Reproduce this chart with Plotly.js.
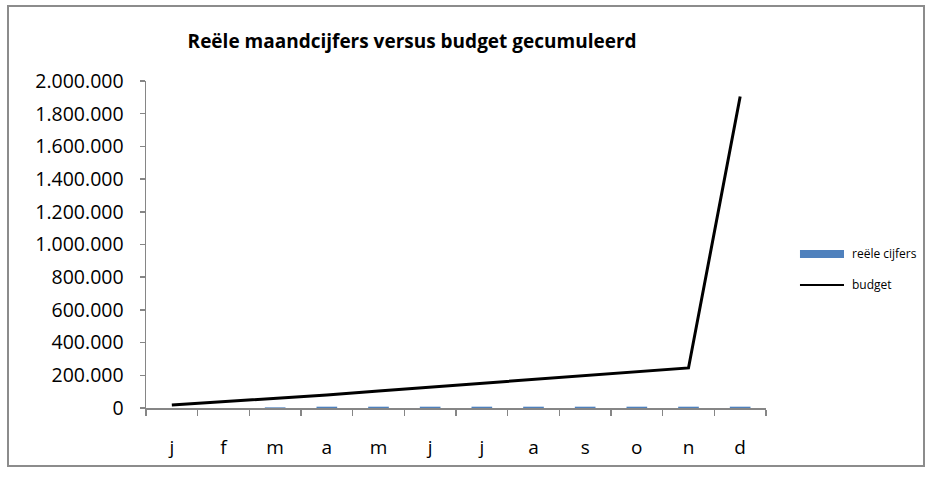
<!DOCTYPE html>
<html>
<head>
<meta charset="utf-8">
<script src="https://cdn.plot.ly/plotly-3.0.1.min.js"></script>
<style>
body { margin: 0; background: #fff; }
#chart { position: absolute; left: 7px; top: 5px; width: 918px; height: 462px;
         box-sizing: border-box; border: 2px solid #8c8c8c; }
</style>
</head>
<body>
<div id="chart"></div>
<script>
// maanden (labels repeat, so plot on index positions)
var maanden = ['j', 'f', 'm', 'a', 'm', 'j', 'j', 'a', 's', 'o', 'n', 'd'];
var reeleCijfers = [0, 0, 4000, 8000, 8000, 8000, 8000, 8000, 8000, 8000, 8000, 8000];
var budget = [18000, 38000, 58000, 80000, 104000, 128000, 151000, 175000, 198000, 222000, 245000, 1905000];
var yTicks = [0, 200000, 400000, 600000, 800000, 1000000, 1200000, 1400000, 1600000, 1800000, 2000000];

var pos = maanden.map(function (m, i) { return i; });
var grenzen = maanden.map(function (m, i) { return i - 0.5; }).concat([maanden.length - 0.5]);

var axisGrey = '#868686';
var fontFam = '"Open Sans", "Liberation Sans", sans-serif';

var data = [{
  type: 'bar',
  name: 'reële cijfers',
  x: pos,
  y: reeleCijfers,
  marker: {color: '#4F81BD'},
  hoverinfo: 'y'
}, {
  type: 'scatter',
  mode: 'lines',
  name: 'budget',
  x: pos,
  y: budget,
  line: {color: '#000000', width: 3}
}];

var layout = {
  width: 914,
  height: 458,
  margin: {l: 137, r: 157, t: 74, b: 57},
  paper_bgcolor: '#ffffff',
  plot_bgcolor: '#ffffff',
  separators: ',.',
  showlegend: false,
  bargap: 0.6,
  font: {family: fontFam, color: '#000000'},
  title: {
    text: '<b>Reële maandcijfers versus budget gecumuleerd</b>',
    font: {family: fontFam, size: 19, color: '#000000'},
    xref: 'container', x: 0.441, xanchor: 'center',
    yref: 'container', y: 0.924, yanchor: 'middle'
  },
  xaxis: {
    range: [-0.5, maanden.length - 0.5],
    tickmode: 'array',
    tickvals: pos,
    ticktext: maanden,
    ticks: '',
    ticklabelstandoff: 21,
    tickfont: {size: 19},
    showline: true, linecolor: axisGrey, linewidth: 2,
    showgrid: false, zeroline: false,
    minor: {tickmode: 'array', tickvals: grenzen, ticks: 'outside', ticklen: 6, tickcolor: axisGrey, tickwidth: 1.5}
  },
  yaxis: {
    range: [0, 2000000],
    tickmode: 'array',
    tickvals: yTicks,
    tickformat: ',d',
    ticks: 'outside', ticklen: 5, tickcolor: axisGrey, tickwidth: 1.5,
    ticklabelstandoff: 12,
    tickfont: {size: 19.5},
    showline: true, linecolor: axisGrey, linewidth: 1.5,
    showgrid: false, zeroline: false
  },
  // legend drawn by hand to mimic the wide swatches
  shapes: [
    {type: 'rect', xref: 'paper', yref: 'paper', x0: 1.0548, x1: 1.1258, y0: 0.4587, y1: 0.4832,
     fillcolor: '#4F81BD', line: {width: 0}},
    {type: 'line', xref: 'paper', yref: 'paper', x0: 1.0548, x1: 1.1258, y0: 0.3761, y1: 0.3761,
     line: {color: '#000000', width: 2}}
  ],
  annotations: [
    {xref: 'paper', yref: 'paper', x: 1.1355, y: 0.471, xanchor: 'left', yanchor: 'middle',
     text: 'reële cijfers', showarrow: false, font: {size: 12}},
    {xref: 'paper', yref: 'paper', x: 1.1355, y: 0.379, xanchor: 'left', yanchor: 'middle',
     text: 'budget', showarrow: false, font: {size: 12}}
  ]
};

Plotly.newPlot('chart', data, layout, {displayModeBar: false, staticPlot: true});
</script>
</body>
</html>
